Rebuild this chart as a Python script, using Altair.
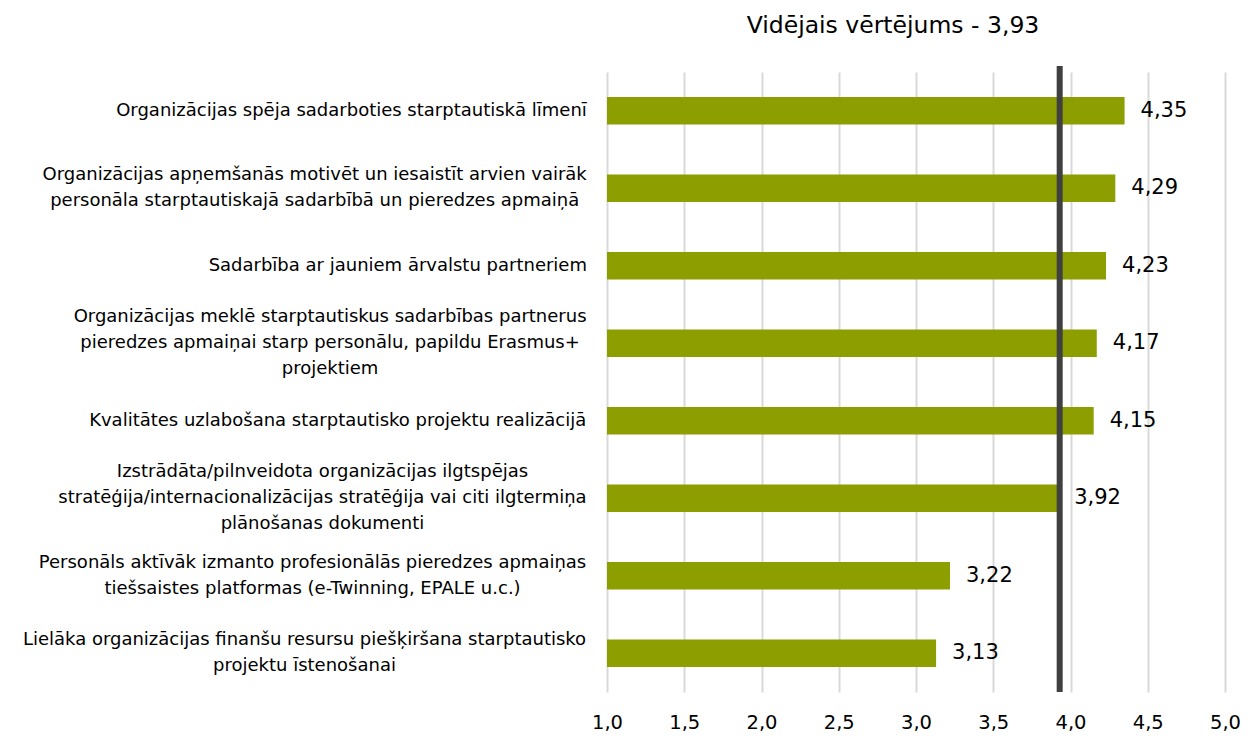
import unicodedata
import altair as alt
import pandas as pd

labels = [
    "Organizācijas spēja sadarboties starptautiskā līmenī",
    "Organizācijas apņemšanās motivēt un iesaistīt arvien vairāk\npersonāla starptautiskajā sadarbībā un pieredzes apmaiņā",
    "Sadarbība ar jauniem ārvalstu partneriem",
    "Organizācijas meklē starptautiskus sadarbības partnerus\npieredzes apmaiņai starp personālu, papildu Erasmus+\nprojektiem",
    "Kvalitātes uzlabošana starptautisko projektu realizācijā",
    "Izstrādāta/pilnveidota organizācijas ilgtspējas\nstratēģija/internacionalizācijas stratēģija vai citi ilgtermiņa\nplānošanas dokumenti",
    "Personāls aktīvāk izmanto profesionālās pieredzes apmaiņas\ntiešsaistes platformas (e-Twinning, EPALE u.c.)",
    "Lielāka organizācijas finanšu resursu piešķiršana starptautisko\nprojektu īstenošanai",
]
values = [4.35, 4.29, 4.23, 4.17, 4.15, 3.92, 3.22, 3.13]
mean_value = 3.93
title_text = "Vidējais vērtējums - 3,93"
tick_values = [1.0, 1.5, 2.0, 2.5, 3.0, 3.5, 4.0, 4.5, 5.0]

FONT = "DejaVu Sans"
LABEL_SIZE = 18
LINE_H = 26
W, H = 618, 620
LABEL_GAP = 20

# approximate DejaVu Sans advance widths (em) for centring multi-line label blocks
_w = {
    'a': .613, 'b': .635, 'c': .550, 'd': .635, 'e': .615, 'f': .352, 'g': .635, 'h': .634,
    'i': .278, 'j': .278, 'k': .579, 'l': .278, 'm': .974, 'n': .634, 'o': .612, 'p': .635,
    'q': .635, 'r': .411, 's': .521, 't': .392, 'u': .634, 'v': .592, 'w': .818, 'x': .592,
    'y': .592, 'z': .525, 'A': .684, 'B': .686, 'C': .698, 'D': .770, 'E': .632, 'F': .575,
    'G': .775, 'H': .752, 'I': .295, 'J': .295, 'K': .656, 'L': .557, 'M': .863, 'N': .748,
    'O': .787, 'P': .603, 'Q': .787, 'R': .695, 'S': .635, 'T': .611, 'U': .732, 'V': .684,
    'W': .989, 'X': .685, 'Y': .611, 'Z': .685, ' ': .318, ',': .318, '.': .318, '/': .337,
    '(': .390, ')': .390, '-': .361, '+': .838,
}


def text_width(s, size):
    tot = 0.0
    for ch in s:
        base = unicodedata.normalize("NFD", ch)[0]
        tot += _w.get(base, .636)
    return tot * size


label_x = [-(LABEL_GAP + max(text_width(l, LABEL_SIZE) for l in lab.split("\n")) / 2) for lab in labels]
label_dy = [-(len(lab.split("\n")) - 1) * LINE_H / 2 for lab in labels]

df = pd.DataFrame({
    "label": labels,
    "value": values,
    "vtext": [f"{v:.2f}".replace(".", ",") for v in values],
    "lx": label_x,
    "ldy": label_dy,
})

y_enc = alt.Y("label:N", sort=labels, axis=None,
              scale=alt.Scale(paddingInner=0.644, paddingOuter=0.322))
x_scale = alt.Scale(domain=[1, 5], nice=False, zero=False)

bars = alt.Chart(df).mark_bar(color="#8C9E00").encode(
    x=alt.X("value:Q", scale=x_scale,
            axis=alt.Axis(values=tick_values, title=None, domain=False, ticks=False,
                          grid=True, gridColor="#d9d9d9", gridWidth=2, labelFlush=False,
                          labelExpr="replace(format(datum.value, '.1f'), '.', ',')",
                          labelFont=FONT, labelFontSize=19.5, labelColor="#000000",
                          labelPadding=21)),
    x2=alt.datum(1),
    y=y_enc,
)

vals = alt.Chart(df).mark_text(align="left", baseline="middle", dx=16,
                               font=FONT, fontSize=21, color="#000000").encode(
    x=alt.X("value:Q", scale=x_scale),
    y=y_enc,
    text="vtext:N",
)

cats = alt.Chart(df).mark_text(align="center", baseline="middle", lineBreak="\n",
                               lineHeight=LINE_H, font=FONT, fontSize=LABEL_SIZE,
                               color="#000000", dy=alt.expr("datum.ldy")).encode(
    x=alt.X("lx:Q", scale=None),
    y=y_enc,
    text="label:N",
)

mean_df = pd.DataFrame({"mean": [mean_value], "title": [title_text]})
rule = alt.Chart(mean_df).mark_rule(color="#404040", strokeWidth=6).encode(
    x=alt.X("mean:Q", scale=x_scale),
    y=alt.value(-6),
    y2=alt.value(H),
)

title = alt.Chart(mean_df).mark_text(align="center", baseline="alphabetic",
                                     font=FONT, fontSize=23.5, color="#000000").encode(
    x=alt.value(286),
    y=alt.value(-39),
    text="title:N",
)

chart = alt.layer(bars, rule, vals, cats, title).properties(
    width=W, height=H,
    autosize=alt.AutoSizeParams(type="none"),
    padding={"left": 599, "top": 64, "right": 15, "bottom": 46},
).configure_view(stroke=None)

chart.save("out.html", embed_options={"renderer": "svg", "actions": False})
